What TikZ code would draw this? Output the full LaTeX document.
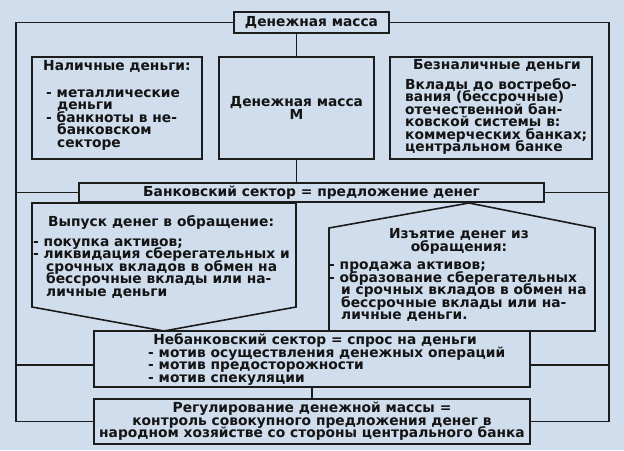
\documentclass[tikz,border=0pt]{standalone}
\usepackage{fontspec}
\setmainfont{DejaVu Sans}
\definecolor{bgc}{RGB}{207,221,236}
\definecolor{linec}{RGB}{28,28,28}
\definecolor{textc}{RGB}{20,20,20}
\newcommand\dfont{\fontsize{13.8}{12.5}\selectfont\bfseries\lineskiplimit=-100pt\lineskip=0pt}
\newcommand\ind{\hspace*{11pt}}
\begin{document}
\begin{tikzpicture}[x=1pt,y=-1pt,
  box/.style={draw=linec, line width=1.6pt, inner sep=0pt, font=\dfont, text=textc},
  txt/.style={font=\dfont, text=textc, inner sep=0pt, align=left},
  conn/.style={draw=linec, line width=1.6pt}]
\fill[bgc] (0,0) rectangle (624,450);
\useasboundingbox (0,0) rectangle (624,450);
% boxes
\node[box, minimum width=155pt, minimum height=21pt] (top) at (311.5,22.5) {Денежная масса};
\node[box, minimum width=170pt, minimum height=102pt] (nal) at (117,108) {};
\node[box, minimum width=155pt, minimum height=102pt, align=center] (mid) at (296.5,108) {Денежная масса\\M};
\node[box, minimum width=202pt, minimum height=102pt] (bez) at (491,108) {};
\node[box, minimum width=465pt, minimum height=19pt] (bank) at (311.5,192.5) {Банковский сектор = предложение денег};
\node[box, minimum width=436pt, minimum height=56pt] (neb) at (312,359) {};
\node[box, minimum width=436pt, minimum height=45pt, align=center] (reg) at (312,421.5) {Регулирование денежной массы =\\контроль совокупного предложения денег в\\народном хозяйстве со стороны центрального банка};
% arrow-shaped boxes
\draw[conn, line join=miter] (32,203) coordinate (vypA) -- (296,203) -- (296,307) -- (164,331) coordinate (vypTip) -- (32,307) -- cycle;
\draw[conn, line join=miter] (469,203) coordinate (izTip) -- (595,228) -- (595,331) -- (329,331) -- (329,228) -- cycle;
% texts (base anchor = baseline of the last line)
\node[txt, anchor=base west] (nalH) at (43,70) {Наличные деньги:};
\node[txt, anchor=base west] (nalL) at (46,147) {- металлические\\\ind деньги\\- банкноты в не-\\\ind банковском\\\ind секторе};
\node[txt, anchor=base] (bezH) at (497,69) {Безналичные деньги};
\node[txt, anchor=base west] (bezL) at (405,151.5) {Вклады до востребо-\\вания (бессрочные)\\отечественной бан-\\ковской системы в:\\коммерческих банках;\\центральном банке};
\node[txt, anchor=base west] (vypH) at (48,226) {Выпуск денег в обращение:};
\node[txt, anchor=base west] (vypL) at (33,296) {- покупка активов;\\- ликвидация сберегательных и\\\hspace*{13pt}срочных вкладов в обмен на\\\hspace*{13pt}бессрочные вклады или на-\\\hspace*{13pt}личные деньги};
\node[txt, anchor=base, align=center] (izH) at (459,251) {Изъятие денег из\\обращения:};
\node[txt, anchor=base west] (izL) at (329,319.5) {- продажа активов;\\- образование сберегательных\\\hspace*{12pt}и срочных вкладов в обмен на\\\hspace*{12pt}бессрочные вклады или на-\\\hspace*{12pt}личные деньги.};
\node[txt, anchor=base] (nebH) at (315,344) {Небанковский сектор = спрос на деньги};
\node[txt, anchor=base west] (nebL) at (148,382) {- мотив осуществления денежных операций\\- мотив предосторожности\\- мотив спекуляции};
% connectors
\coordinate (LT) at (16,23);
\coordinate (RT) at (609,23);
\draw[conn] (top.west) -- (top.west -| LT) |- (reg.west);
\draw[conn] (top.east) -- (top.east -| RT) |- (reg.east);
\draw[conn] (bank.west) -- (bank.west -| LT);
\draw[conn] (bank.east) -- (bank.east -| RT);
\draw[conn] ([yshift=-6pt]neb.west) -- ([yshift=-6pt]neb.west -| LT);
\draw[conn] ([yshift=-6pt]neb.east) -- ([yshift=-6pt]neb.east -| RT);
\draw[conn] (mid.north) -- (mid.north |- top.south);
\draw[conn] (mid.south) -- (mid.south |- bank.north);
\draw[conn] (neb.south) -- (neb.south |- reg.north);
\end{tikzpicture}
\end{document}
